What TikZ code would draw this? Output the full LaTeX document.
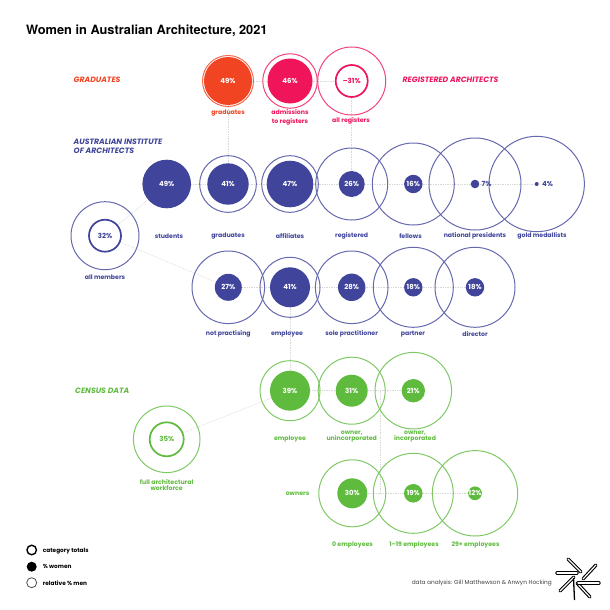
\documentclass[tikz,border=0pt]{standalone}
\usepackage{fontspec}
\setmainfont{Poppins}
\newfontfamily\titlefont{TeX Gyre Heros}
\usetikzlibrary{positioning,calc}
\definecolor{orangeC}{HTML}{F04423}
\definecolor{pinkC}{HTML}{F0145A}
\definecolor{navyC}{HTML}{40449A}
\definecolor{greenC}{HTML}{5FBB3E}
\definecolor{dotC}{HTML}{D8D8D8}
\pgfdeclarelayer{background}
\pgfsetlayers{background,main}

\begin{document}
\begin{tikzpicture}[
    x=1pt, y=-1pt,
    ring/.style={circle, draw=#1!80!white, line width=1pt, inner sep=0pt},
    bub/.style={circle, fill=#1, text=white, inner sep=0pt, font=\fontsize{7}{7}\selectfont\bfseries},
    tot/.style={circle, draw=#1, text=#1, line width=1.7pt, fill=white, inner sep=0pt, font=\fontsize{7}{7}\selectfont\bfseries},
    lab/.style={text=#1, align=center, inner sep=0pt, font=\fontsize{6.2}{6}\selectfont\bfseries},
    head/.style={text=#1, align=left, inner sep=0pt, anchor=west, font=\fontsize{7.7}{9.4}\selectfont\bfseries\itshape},
    link/.style={dotC, line width=0.7pt, densely dotted},
    key/.style={anchor=west, inner sep=0pt, font=\fontsize{5.8}{6}\selectfont\bfseries},
    stick/.style={line width=1.1pt, double=white, double distance=1.2pt, line cap=round}
    ]

    \useasboundingbox (0,0) rectangle (610,610);

    \node[anchor=west, inner sep=0pt, font=\fontsize{12.8}{14}\selectfont\titlefont\bfseries] (title) at (26,30.5) {Women in Australian Architecture, 2021};

    % graduates and registers
    \node[ring=orangeC, minimum size=51pt] (gradO) at (228,81) {};
    \node[bub=orangeC, minimum size=48pt] (grad) at (228,81) {49\%};
    \node[ring=pinkC, minimum size=54.5pt] (admO) at (290,81) {};
    \node[bub=pinkC, minimum size=45pt] (adm) at (290,81) {46\%};
    \node[ring=pinkC, minimum size=68pt] (regO) at (351.7,81) {};
    \node[tot=pinkC, minimum size=32pt] (reg) at (351.7,81) {–31\%};

    % institute, first row
    \node[bub=navyC, minimum size=48.6pt] (stud) at (166.7,184) {49\%};
    \node[ring=navyC, minimum size=56.6pt] (aiaGradO) at (228,184) {};
    \node[bub=navyC, minimum size=41.4pt] (aiaGrad) at (228,184) {41\%};
    \node[ring=navyC, minimum size=56.6pt] (affO) at (290,184) {};
    \node[bub=navyC, minimum size=46.6pt] (aff) at (290,184) {47\%};
    \node[ring=navyC, minimum size=72pt] (aiaRegO) at (351.7,184) {};
    \node[bub=navyC, minimum size=26pt] (aiaReg) at (351.7,184) {26\%};
    \node[ring=navyC, minimum size=82pt] (felO) at (413.3,184) {};
    \node[bub=navyC, minimum size=18.4pt] (fel) at (413.3,184) {16\%};
    \node[ring=navyC, minimum size=92pt] (presO) at (475,184) {};
    \node[bub=navyC, minimum size=8.6pt] (pres) at (475,184) {};
    \node[ring=navyC, minimum size=95.4pt] (goldO) at (536.7,184) {};
    \node[bub=navyC, minimum size=4pt] (gold) at (536.7,184) {};
    \node[lab=navyC, font=\fontsize{7}{7}\selectfont\bfseries] (presPc) [right=2pt of pres] {7\%};
    \node[lab=navyC, font=\fontsize{7}{7}\selectfont\bfseries] (goldPc) [right=3pt of gold] {4\%};

    % all members
    \node[ring=navyC, minimum size=68pt] (memO) at (105,235.7) {};
    \node[tot=navyC, minimum size=32pt] (mem) at (105,235.7) {32\%};

    % institute, second row
    \node[ring=navyC, minimum size=72.6pt] (notO) at (228.3,287.3) {};
    \node[bub=navyC, minimum size=27pt] (not) at (228.3,287.3) {27\%};
    \node[ring=navyC, minimum size=60pt] (empO) at (290,287.3) {};
    \node[bub=navyC, minimum size=40pt] (emp) at (290,287.3) {41\%};
    \node[ring=navyC, minimum size=72.6pt] (soleO) at (351.7,287.3) {};
    \node[bub=navyC, minimum size=27.4pt] (sole) at (351.7,287.3) {28\%};
    \node[ring=navyC, minimum size=80pt] (partO) at (413.3,287.3) {};
    \node[bub=navyC, minimum size=18.4pt] (part) at (413.3,287.3) {18\%};
    \node[ring=navyC, minimum size=80pt] (dirO) at (475,287.3) {};
    \node[bub=navyC, minimum size=18.4pt] (dir) at (475,287.3) {18\%};

    % census
    \node[ring=greenC, minimum size=60pt] (cEmpO) at (290,390.7) {};
    \node[bub=greenC, minimum size=40pt] (cEmp) at (290,390.7) {39\%};
    \node[ring=greenC, minimum size=67pt] (uninO) at (351.7,390.7) {};
    \node[bub=greenC, minimum size=32pt] (unin) at (351.7,390.7) {31\%};
    \node[ring=greenC, minimum size=76.6pt] (incO) at (413.3,390.7) {};
    \node[bub=greenC, minimum size=23.4pt] (inc) at (413.3,390.7) {21\%};
    \node[ring=greenC, minimum size=66.6pt] (fullO) at (166.7,439.3) {};
    \node[tot=greenC, minimum size=34pt] (full) at (166.7,439.3) {35\%};
    \node[ring=greenC, minimum size=67pt] (zeroO) at (352.3,493.3) {};
    \node[bub=greenC, minimum size=30pt] (zero) at (352.3,493.3) {30\%};
    \node[ring=greenC, minimum size=80pt] (fewO) at (413.3,493.3) {};
    \node[bub=greenC, minimum size=18.6pt] (few) at (413.3,493.3) {19\%};
    \node[ring=greenC, minimum size=85.4pt] (manyO) at (475,493.3) {};
    \node[bub=greenC, minimum size=13pt] (many) at (475,493.3) {12\%};

    \coordinate (splitA) at (380,390.7);
    \coordinate (splitB) at (380,493.3);

    \begin{pgfonlayer}{background}
        \foreach \src/ \dst in {grad/adm, adm/reg, grad/aiaGrad, reg/aiaReg, stud/aiaGrad, aiaGrad/aff, aff/aiaReg,
            aiaReg/fel, fel/pres, pres/gold, mem/stud, mem/not, not/emp, emp/sole, sole/part, part/dir,
            emp/cEmp, cEmp/unin, unin/inc, full/cEmp, zero/few, few/many, splitA/splitB}
            \path[link] (\src) edge (\dst);
    \end{pgfonlayer}

    % headings
    \node[head=orangeC] (hGrad) at (73.5,80) {GRADUATES};
    \node[head=pinkC] (hReg) at (402.5,80) {REGISTERED ARCHITECTS};
    \node[head=navyC] (hAia) at (73.5,146) {AUSTRALIAN INSTITUTE\\OF ARCHITECTS};
    \node[head=greenC] (hCen) at (75,391) {CENSUS DATA};

    % labels
    \node[lab=orangeC] (lGrad) at (228,113) {graduates};
    \node[lab=pinkC] (lAdm) at (290,117.5) {admissions\\[3pt]to registers};
    \node[lab=pinkC] (lReg) at (351,121) {all registers};
    \node[lab=navyC] (lStud) at (169,236) {students};
    \node[lab=navyC] (lGr) at (228,236) {graduates};
    \node[lab=navyC] (lAff) at (290,236) {affiliates};
    \node[lab=navyC] (lAr) at (351.7,236) {registered};
    \node[lab=navyC] (lFel) at (410.5,236) {fellows};
    \node[lab=navyC] (lPres) at (475,236) {national presidents};
    \node[lab=navyC] (lGold) at (542,236) {gold medallists};
    \node[lab=navyC] (lMem) at (105,277) {all members};
    \node[lab=navyC] (lNot) at (228.3,334) {not practising};
    \node[lab=navyC] (lEmp) at (287,334) {employee};
    \node[lab=navyC] (lSole) at (351.7,334) {sole practitioner};
    \node[lab=navyC] (lPart) at (413,334) {partner};
    \node[lab=navyC] (lDir) at (475,334) {director};
    \node[lab=greenC] (lCe) at (290,439.5) {employee};
    \node[lab=greenC] (lUn) at (351.7,437) {owner,\\unincorporated};
    \node[lab=greenC] (lIn) at (415,437) {owner,\\incorporated};
    \node[lab=greenC] (lFull) at (166.7,485.5) {full architectural\\workforce};
    \node[lab=greenC] (lOwn) at (297.5,493.5) {owners};
    \node[lab=greenC] (lZero) at (352.5,545) {0 employees};
    \node[lab=greenC] (lFew) at (414,545) {1–19 employees};
    \node[lab=greenC] (lMany) at (475.5,545) {29+ employees};

    % key
    \node[circle, draw, line width=1.4pt, minimum size=9.5pt, inner sep=0pt] (kA) at (31.7,550) {};
    \node[circle, fill=black, minimum size=10pt, inner sep=0pt] (kB) at (31.7,566.7) {};
    \node[circle, draw=black!70, line width=0.8pt, minimum size=10pt, inner sep=0pt] (kC) at (31.7,582.7) {};
    \node[key] (tA) at (42.7,551) {category totals};
    \node[key] (tB) at (42.7,566.7) {\% women};
    \node[key] (tC) at (42.7,583.5) {relative \% men};

    \node[anchor=east, inner sep=0pt, text=black!75, font=\fontsize{5.8}{6}\selectfont] (credit) at (552,582.7) {data analysis: Gill Matthewson \& Anwyn Hocking};

    % logo
    \foreach \ax/\ay/\bx/\by in {568/559/581/572, 557/573/577/573, 560/591/574/577, 577/583/590/597, 583/579/596/565, 578/583/599/583}
        \draw[stick] (\ax,\ay) -- (\bx,\by);
    \draw[line width=1.3pt] (573.5,578) -- (574.5,600);
\end{tikzpicture}
\end{document}
